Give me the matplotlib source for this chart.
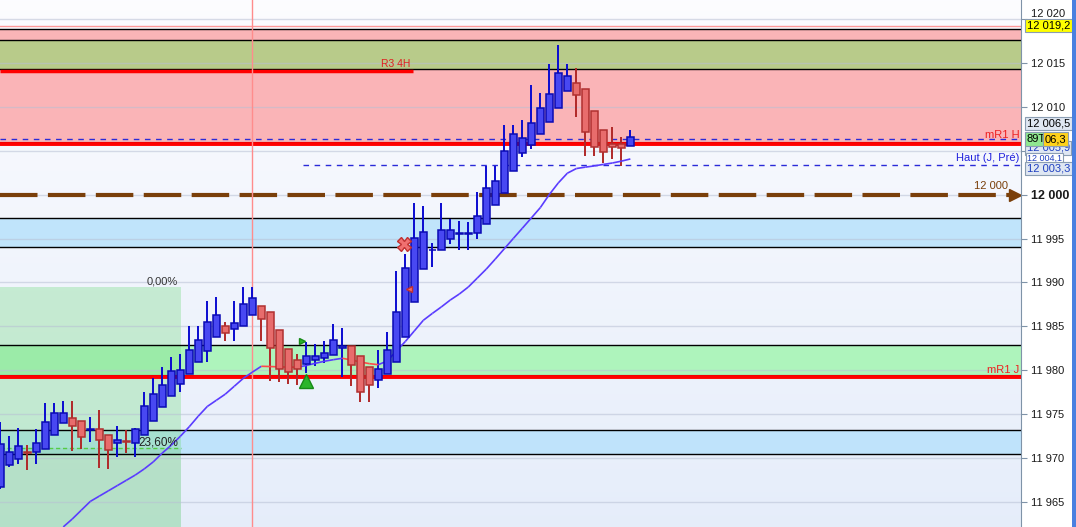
import numpy as np
import matplotlib.pyplot as plt
import matplotlib.transforms as mtransforms
from matplotlib.collections import LineCollection
from matplotlib.patches import Rectangle

plt.rcParams['font.family'] = ['Liberation Sans', 'DejaVu Sans']

# candles
opens = [11966.7, 11969.2, 11969.9, 11970.75, 11970.7, 11971.1, 11972.6, 11974.0, 11974.6, 11974.2,
         11973.25, 11973.3, 11972.7, 11971.8, 11971.95, 11971.8, 11972.6, 11974.3, 11975.8, 11977.1,
         11978.5, 11979.6, 11980.9, 11982.2, 11983.8, 11985.0, 11984.7, 11985.0, 11986.3, 11987.3,
         11986.6, 11984.6, 11982.4, 11981.2, 11980.7, 11981.2, 11981.4, 11981.7, 11982.6, 11982.8,
         11981.6, 11980.4, 11978.9, 11979.6, 11980.9, 11983.8, 11987.8, 11991.5, 11993.65, 11993.7,
         11994.9, 11995.5, 11995.5, 11995.6, 11996.6, 11998.8, 12000.2, 12002.7, 12004.7, 12005.6,
         12006.9, 12008.3, 12009.8, 12011.8, 12012.7, 12012.0, 12009.5, 12007.4, 12005.8, 12005.7,
         12005.5]
highs = [11974.1, 11972.5, 11973.5, 11971.5, 11973.3, 11976.3, 11976.3, 11976.5, 11976.5, 11974.3,
         11974.7, 11975.5, 11972.7, 11973.7, 11973.2, 11973.4, 11977.6, 11979.1, 11980.4, 11981.5,
         11981.9, 11985.1, 11985.0, 11987.9, 11988.3, 11985.5, 11987.9, 11989.5, 11989.5, 11987.3,
         11986.6, 11984.6, 11982.4, 11981.9, 11983.2, 11983.0, 11983.4, 11985.3, 11984.8, 11982.8,
         11981.6, 11980.4, 11982.3, 11984.4, 11991.3, 11993.2, 11999.0, 11998.7, 11994.5, 11999.0,
         11997.2, 11997.0, 11996.9, 12000.3, 12003.3, 12003.3, 12007.9, 12007.9, 12008.5, 12012.5,
         12011.6, 12014.9, 12017.0, 12014.9, 12014.4, 12012.0, 12009.5, 12007.4, 12007.7, 12006.5,
         12007.3]
lows = [11966.5, 11969.0, 11969.4, 11968.7, 11969.4, 11971.1, 11972.6, 11974.0, 11970.8, 11971.1,
        11971.9, 11968.9, 11968.8, 11970.2, 11970.6, 11970.2, 11972.6, 11974.3, 11975.8, 11977.1,
        11977.5, 11979.6, 11980.9, 11981.0, 11983.8, 11983.4, 11983.4, 11985.0, 11986.3, 11983.3,
        11978.8, 11978.7, 11978.4, 11978.3, 11979.7, 11980.5, 11980.8, 11981.7, 11979.3, 11978.2,
        11976.4, 11976.4, 11978.0, 11979.6, 11980.9, 11983.8, 11987.8, 11991.5, 11991.8, 11993.7,
        11994.4, 11993.7, 11993.7, 11995.0, 11996.6, 11998.8, 12000.2, 12002.7, 12004.3, 12005.2,
        12006.9, 12008.3, 12009.8, 12011.8, 12008.8, 12004.4, 12004.4, 12003.6, 12004.0, 12003.3,
        12005.5]
closes = [11971.6, 11970.7, 11971.4, 11970.65, 11971.8, 11974.1, 11975.2, 11975.2, 11973.7, 11972.4,
          11973.35, 11972.1, 11970.9, 11972.1, 11971.85, 11973.3, 11976.0, 11977.3, 11978.3, 11979.9,
          11980.1, 11982.3, 11983.5, 11985.5, 11986.3, 11984.3, 11985.4, 11987.6, 11988.2, 11985.9,
          11982.5, 11980.2, 11979.8, 11980.2, 11981.6, 11981.6, 11982.0, 11983.5, 11982.8, 11980.6,
          11977.5, 11978.3, 11980.2, 11982.3, 11986.7, 11991.7, 11995.1, 11995.7, 11993.75, 11996.0,
          11996.0, 11995.6, 11995.6, 11997.6, 12000.8, 12001.6, 12005.0, 12006.9, 12006.4, 12008.1,
          12009.8, 12011.4, 12013.8, 12013.5, 12011.3, 12007.1, 12005.4, 12004.8, 12005.4, 12005.3,
          12006.5]

# moving average, starts at candle 7
ma_start = 7
ma = [11962.2, 11963.1, 11964.1, 11965.1, 11965.7, 11966.3, 11966.9, 11967.5, 11968.1, 11968.8,
      11969.6, 11970.6, 11971.5, 11972.5, 11973.6, 11974.8, 11975.9, 11976.6, 11977.3, 11978.2,
      11979.1, 11979.8, 11980.47, 11980.44, 11980.4, 11980.38, 11980.36, 11980.56, 11980.81, 11981.04,
      11981.22, 11981.38, 11981.19, 11980.96, 11980.77, 11980.65, 11981.08, 11982.21, 11983.29, 11984.49,
      11985.7, 11986.48, 11987.22, 11988.01, 11988.69, 11989.49, 11990.51, 11991.53, 11992.67, 11993.84,
      11995.01, 11996.17, 11997.34, 11998.52, 12000.01, 12001.33, 12002.43, 12002.96, 12003.12, 12003.26,
      12003.43, 12003.59, 12003.8, 12004.05]

price_ticks = [11965, 11970, 11975, 11980, 11985, 11990, 11995, 12000, 12005, 12010, 12015, 12020]
tick_labels = ['11 965', '11 970', '11 975', '11 980', '11 985', '11 990', '11 995', '12 000',
               '', '12 010', '12 015', '12 020']

ymin, ymax = 11962.19, 12022.13
xmin, xmax = -0.03, 113.4

fig = plt.figure(figsize=(10.76, 5.27), dpi=100, facecolor='white')
ax = fig.add_axes([0, 0, 1021 / 1076, 1])
ax.set_xlim(xmin, xmax)
ax.set_ylim(ymin, ymax)

# background gradient
grad = np.linspace(0, 1, 256).reshape(-1, 1)
top = np.array([0.99, 0.99, 1.0])
bot = np.array([0.90, 0.93, 0.98])
img = top * (1 - grad[..., None]) + bot * grad[..., None]
ax.imshow(img, extent=[xmin, xmax, ymin, ymax], aspect='auto', origin='upper', zorder=0)

# zones
ax.axhspan(12005.87, 12018.84, color='#fab4b7', zorder=1, lw=0)
ax.axhspan(12014.29, 12017.58, color='#b8cb8a', zorder=1, lw=0)
ax.axhspan(11994.01, 11997.31, color='#c0e4fb', zorder=1, lw=0)
ax.axhspan(11979.4, 11982.87, color='#aef4bc', zorder=1, lw=0)
ax.axhspan(11970.5, 11973.23, color='#bfe3fb', zorder=1, lw=0)

# fibonacci box
fib_right = 20.08
ax.fill_between([xmin, fib_right], ymin, 11989.49, color='#79dc85', alpha=0.35, lw=0, zorder=1.2)
ax.fill_between([xmin, fib_right], ymin, 11971.18, color='#3a8f6a', alpha=0.08, lw=0, zorder=1.2)
ax.hlines(11971.18, xmin, fib_right, color='#55cc44', lw=1, linestyles=(0, (3, 2)), zorder=3)
ax.text(19.75, 11989.6, '0,00%', ha='right', va='bottom', fontsize=8, color='#333333', zorder=6)
ax.text(19.75, 11971.85, '23,60%', ha='right', va='center', fontsize=8.5, color='#222222', zorder=6)

# grid
for p in price_ticks:
    ax.axhline(p, color='#b8c0d4', lw=1, alpha=0.55, zorder=1.5)

# horizontal levels
ax.axhline(12019.16, color='#ff9a9a', lw=1, zorder=2)
for p in [12018.84, 12017.58, 12014.29, 11997.31, 11994.01, 11982.87, 11973.23, 11970.5]:
    ax.axhline(p, color='black', lw=1, zorder=2)
ax.hlines(12014.06, xmin, 45.86, color='#ff0000', lw=2.5, zorder=2)
ax.text(45.6, 12014.3, 'R3 4H', ha='right', va='bottom', fontsize=7.5, color='#e02020', zorder=6)

ax.axhline(12006.0, color='#300000', lw=0.8, zorder=2)
ax.axhline(12005.8, color='#ff0000', lw=2.8, zorder=2)
ax.axhline(11979.45, color='#300000', lw=0.8, zorder=2)
ax.axhline(11979.3, color='#ff0000', lw=2.8, zorder=2)

ax.axhline(12006.32, color='#2a2ad8', lw=1, dashes=(4, 4), zorder=2.2)
ax.hlines(12003.37, 33.6, xmax, color='#2a2ad8', lw=1, linestyles=(0, (4, 4)), zorder=2.2)

ax.hlines(12000, xmin, 112.3, color='#7a3f0a', lw=3, linestyles=(0, (9, 2.5)), zorder=2.3)
ax.plot([112.75], [12000], marker='>', ms=9, color='#7a3f0a', zorder=2.3, clip_on=False)
ax.text(112.0, 12000.45, '12 000', ha='right', va='bottom', fontsize=8, color='#7a3f0a', zorder=6)

ax.text(113.2, 12006.15, 'mR1 H', ha='right', va='bottom', fontsize=8, color='#ee2020', zorder=6)
ax.text(113.2, 12004.2, 'Haut (J, Pré)', ha='right', va='center', fontsize=8, color='#2222dd', zorder=6)
ax.text(113.2, 11980.05, 'mR1 J', ha='right', va='center', fontsize=8, color='#ee2020', zorder=6)

ax.axvline(28, color='#ff8c8c', lw=1, zorder=2.4)

# candles
xs = np.arange(len(opens))
o = np.array(opens); c = np.array(closes)
up = c >= o
wick_col = np.where(up, '#0a0ad0', '#b02828')
ax.vlines(xs, lows, highs, colors=wick_col, lw=1.4, zorder=3)
bottom = np.minimum(o, c)
height = np.maximum(np.abs(c - o), 0.08)
ax.bar(xs[up], height[up], bottom=bottom[up], width=0.74, color='#4848f2',
       edgecolor='#0a0ab4', lw=1.1, zorder=4)
ax.bar(xs[~up], height[~up], bottom=bottom[~up], width=0.74, color='#e86c6c',
       edgecolor='#b03030', lw=1.1, zorder=4)

# moving average
mx = np.arange(ma_start, ma_start + len(ma))
pts = np.column_stack([mx, ma])
segs = np.stack([pts[:-1], pts[1:]], axis=1)
cols = ['#5a3cff' if b >= a else '#ff4a4a' for a, b in zip(ma[:-1], ma[1:])]
ax.add_collection(LineCollection(segs, colors=cols, lw=1.2, zorder=3.5))

# signals
ax.plot([34], [11978.8], marker='^', ms=10, color='#2bb52b', mec='#178a17', zorder=5)
ax.plot([33.5], [11983.35], marker='>', ms=5, color='#2bb52b', mec='#178a17', zorder=5)
ax.plot([44.85], [11994.38], marker='X', ms=10, color='#f07070', mec='#c03030', zorder=5)
ax.plot([45.4], [11989.26], marker='<', ms=5, color='#f07070', mec='#c03030', zorder=5)

# right axis
for s in ['left', 'top', 'bottom']:
    ax.spines[s].set_visible(False)
ax.spines['right'].set_color('#7f93a8')
ax.set_xticks([])
ax.yaxis.tick_right()
ax.set_yticks(price_ticks, labels=tick_labels)
ax.tick_params(axis='y', direction='out', length=4, color='#7f93a8', labelsize=8,
               labelcolor='#1a1a1a', pad=3)
for t in ax.get_yticklabels():
    if t.get_text() == '12 000':
        t.set_fontweight('bold')
        t.set_fontsize(9)
    if t.get_text() == '12 020':
        t.set_va('bottom')

tr = mtransforms.blended_transform_factory(ax.transAxes, ax.transData)
box = dict(boxstyle='square,pad=0.15', fc='#dfe7f2', ec='#8a9db2', lw=0.8)
ax.text(1.0055, 12019.2, '12 019,2', transform=tr, fontsize=8, va='center', ha='left', clip_on=False,
        zorder=10, bbox=dict(boxstyle='square,pad=0.15', fc='#ffff00', ec='#8a9db2', lw=0.8))
ax.text(1.0055, 12008.1, '12 006,5', transform=tr, fontsize=8, va='center', ha='left', clip_on=False,
        zorder=10, bbox=box)
ax.text(1.0055, 12005.3, '12 005,9', transform=tr, fontsize=8, va='center', ha='left', clip_on=False,
        color='#2040c0', zorder=9, bbox=box)
ax.text(1.0055, 12006.32, '89T', transform=tr, fontsize=8, va='center', ha='left', clip_on=False,
        zorder=11, bbox=dict(boxstyle='square,pad=0.15', fc='#8fe88f', ec='#8a9db2', lw=0.8))
ax.text(1.0235, 12006.32, '06,3', transform=tr, fontsize=8, va='center', ha='left', clip_on=False,
        zorder=11, bbox=dict(boxstyle='square,pad=0.15', fc='#ffd21a', ec='#8a9db2', lw=0.8))
ax.text(1.0055, 12004.1, '12 004,1', transform=tr, fontsize=6.5, va='center', ha='left', clip_on=False,
        color='#2040c0', zorder=9, bbox=dict(boxstyle='square,pad=0.1', fc='white', ec='#8a9db2', lw=0.8))
ax.text(1.0055, 12003.0, '12 003,3', transform=tr, fontsize=8, va='center', ha='left', clip_on=False,
        color='#2040c0', zorder=10, bbox=box)

fig.add_artist(Rectangle((1072 / 1076, 0), 4 / 1076, 1, transform=fig.transFigure,
                         color='#4a80e0', lw=0))

fig.savefig('out.png', dpi=100)
